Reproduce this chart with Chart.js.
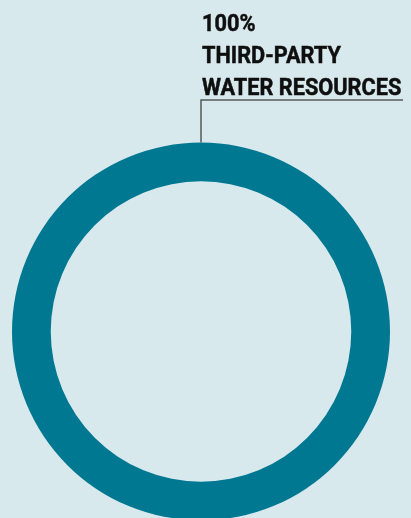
<!DOCTYPE html>
<html>
<head>
<meta charset="utf-8">
<script src="https://cdn.jsdelivr.net/npm/chart.js@4"></script>
<style>
  html, body { margin: 0; padding: 0; background: #d8e9ee; }
  #wrap { position: relative; width: 411px; height: 518px; overflow: hidden; background: #d8e9ee; }
  #box { position: absolute; left: 0; top: 0; width: 411px; height: 540px; }
  #label {
    position: absolute; left: 202px; top: 7px;
    font-family: Roboto, "Liberation Sans", sans-serif; font-weight: 700;
    font-size: 24px; line-height: 32px; color: #0f0f0f;
    -webkit-text-stroke: 0.5px #0f0f0f;
    transform-origin: 0 0; transform: scaleX(0.905); white-space: nowrap;
  }
</style>
</head>
<body>
<div id="wrap">
  <div id="box"><canvas id="donut"></canvas></div>
  <div id="label">100%<br>THIRD-PARTY<br>WATER RESOURCES</div>
</div>
<script>
const categories = ["Third-party water resources"];
const shares = [100];
const colours = ["#007891"];

// leader line from the top of the ring up to the label underline
const leader = {
  id: 'leader',
  afterDraw(chart) {
    const arc = chart.getDatasetMeta(0).data[0];
    if (!arc) return;
    const ctx = chart.ctx;
    ctx.save();
    ctx.strokeStyle = '#55595c';
    ctx.lineWidth = 1.5;
    ctx.beginPath();
    ctx.moveTo(arc.x, arc.y - arc.outerRadius);
    ctx.lineTo(arc.x, 100);
    ctx.lineTo(403, 100);
    ctx.stroke();
    ctx.restore();
  }
};

new Chart(document.getElementById('donut'), {
  type: 'doughnut',
  data: {
    labels: categories,
    datasets: [{
      data: shares,
      backgroundColor: colours,
      borderWidth: 0,
      hoverOffset: 0
    }]
  },
  options: {
    responsive: true,
    maintainAspectRatio: false,
    animation: false,
    cutout: '79.5%',
    layout: { padding: { left: 12, right: 21, top: 142.5, bottom: 19.5 } },
    plugins: {
      legend: { display: false },
      tooltip: { enabled: false }
    }
  },
  plugins: [leader]
});
</script>
</body>
</html>
